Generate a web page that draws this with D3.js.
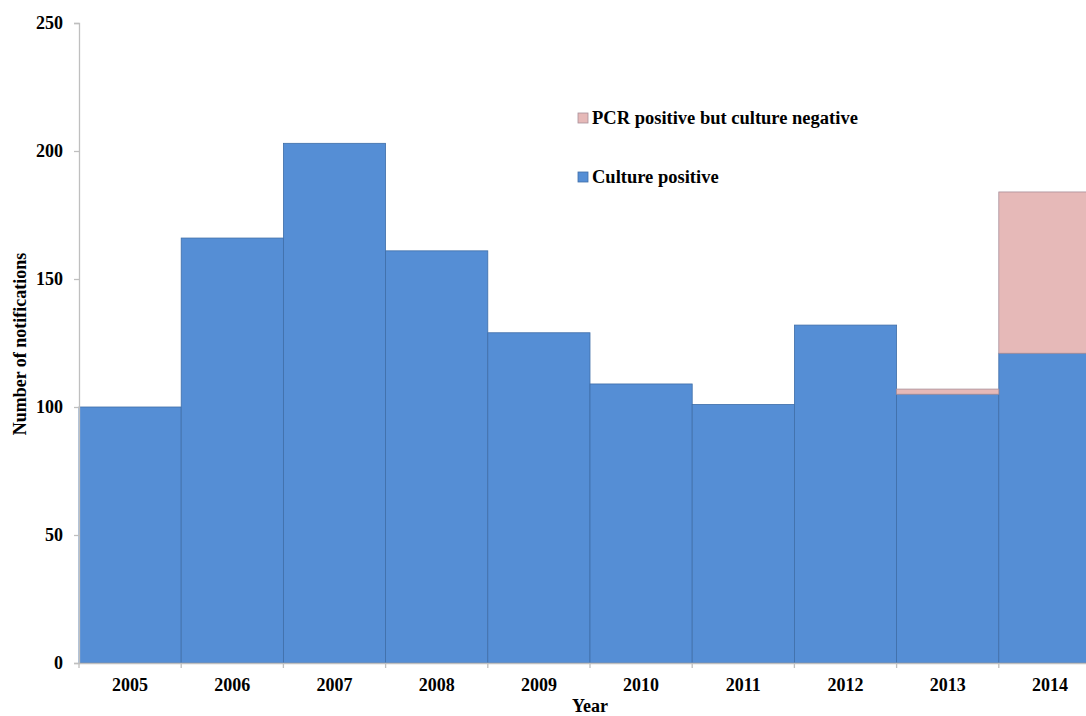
<!DOCTYPE html>
<html>
<head>
<meta charset="utf-8">
<script src="https://cdn.jsdelivr.net/npm/d3@7"></script>
<style>
  html, body { margin: 0; padding: 0; background: #fff; overflow: hidden; }
  svg { display: block; }
  text { font-family: "Liberation Serif", "Times New Roman", serif; font-weight: bold; fill: #000; }
</style>
</head>
<body>
<svg id="chart" width="1086" height="716"></svg>
<script>
// Annual notifications by year, split by laboratory confirmation method
const years = ["2005", "2006", "2007", "2008", "2009", "2010", "2011", "2012", "2013", "2014"];
const culturePositive = [100, 166, 203, 161, 129, 109, 101, 132, 105, 121];
const pcrOnly = [0, 0, 0, 0, 0, 0, 0, 0, 2, 63];
const yTicks = [0, 50, 100, 150, 200, 250];
const seriesNames = ["Culture positive", "PCR positive but culture negative"];
const seriesColors = ["#558ED5", "#E6B9B8"];

const FONT = "'Liberation Serif', 'Times New Roman', serif";
const svg = d3.select("#chart");
const margin = { left: 79, top: 23, bottom: 53 };
const plotRight = 1101;
const height = 716;

const x = d3.scaleBand().domain(years).range([margin.left, plotRight]).padding(0);
const y = d3.scaleLinear().domain([0, 250]).range([height - margin.bottom, margin.top]);

const table = years.map((yr, i) => ({ year: yr, culture: culturePositive[i], pcr: pcrOnly[i] }));
const stack = d3.stack().keys(["culture", "pcr"])(table);

// stacked bars with no gap
const layers = svg.append("g").selectAll("g")
  .data(stack)
  .join("g")
  .attr("fill", (d, i) => seriesColors[i])
  .attr("stroke", (d, i) => i === 0 ? "#3F6EA8" : "#A98F9A");

layers.selectAll("rect")
  .data(d => d.filter(v => v[1] - v[0] > 0))
  .join("rect")
  .attr("x", d => x(d.data.year))
  .attr("width", x.bandwidth())
  .attr("y", d => y(d[1]))
  .attr("height", d => y(d[0]) - y(d[1]))
  .attr("stroke-width", 0.8);

// y axis
const yAxis = svg.append("g")
  .attr("transform", `translate(${margin.left},0)`)
  .call(d3.axisLeft(y).tickValues(yTicks).tickSize(5).tickPadding(11));
yAxis.attr("font-family", null).attr("font-size", null);
yAxis.select(".domain").attr("stroke", "#BFBFBF").attr("stroke-width", 1.3);
yAxis.selectAll(".tick line").attr("stroke", "#BFBFBF").attr("stroke-width", 1.3);
yAxis.selectAll(".tick text").style("font-size", "18px").style("font-family", FONT).style("font-weight", "bold").attr("fill", "#000");

// x axis
const xAxis = svg.append("g")
  .attr("transform", `translate(0,${height - margin.bottom})`)
  .call(d3.axisBottom(x).tickSize(0).tickPadding(15));
xAxis.attr("font-family", null).attr("font-size", null);
xAxis.select(".domain").attr("stroke", "#BFBFBF").attr("stroke-width", 1.3);
xAxis.selectAll(".tick text").style("font-size", "18px").style("font-family", FONT).style("font-weight", "bold").attr("fill", "#000");
// boundary ticks between categories
const bounds = years.map(yr => x(yr)).concat([plotRight]);
svg.append("g").selectAll("line")
  .data(bounds)
  .join("line")
  .attr("x1", d => d).attr("x2", d => d)
  .attr("y1", height - margin.bottom).attr("y2", height - margin.bottom + 5)
  .attr("stroke", "#BFBFBF").attr("stroke-width", 1.3);

// axis titles
svg.append("text")
  .attr("transform", `translate(26,344) rotate(-90)`)
  .attr("text-anchor", "middle")
  .style("font-size", "18px").style("font-family", FONT)
  .text("Number of notifications");
svg.append("text")
  .attr("x", 590).attr("y", 712)
  .attr("text-anchor", "middle")
  .style("font-size", "18px").style("font-family", FONT)
  .text("Year");

// legend
const legendItems = [
  { name: seriesNames[1], color: seriesColors[1], stroke: "#A98F9A", y: 118 },
  { name: seriesNames[0], color: seriesColors[0], stroke: "#3F6EA8", y: 177 }
];
const lg = svg.append("g").selectAll("g").data(legendItems).join("g")
  .attr("transform", d => `translate(578,${d.y})`);
lg.append("rect").attr("x", 0).attr("y", -5).attr("width", 10).attr("height", 10)
  .attr("fill", d => d.color).attr("stroke", d => d.stroke).attr("stroke-width", 0.8);
lg.append("text").attr("x", 14).attr("y", 6).style("font-size", "18.5px").style("font-family", FONT).text(d => d.name);
</script>
</body>
</html>
